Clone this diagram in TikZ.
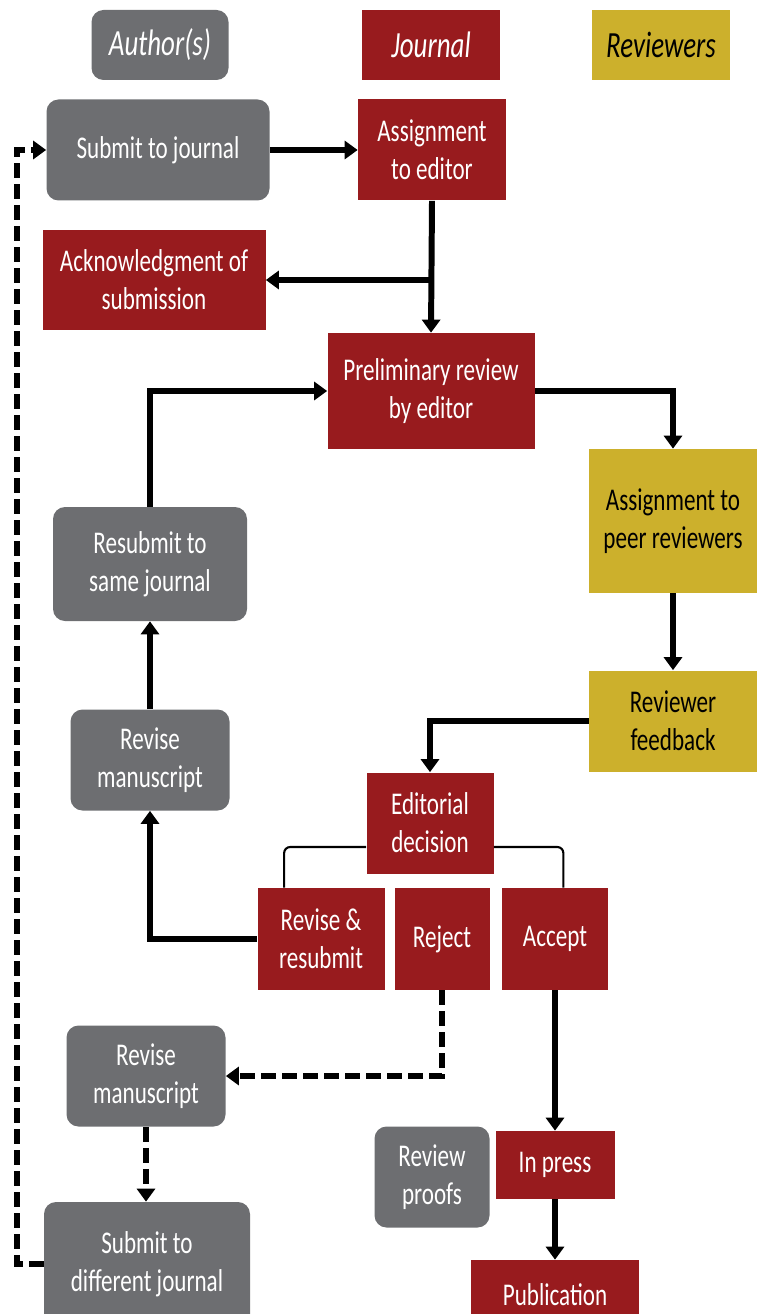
\documentclass[tikz,border=0pt]{standalone}
\usepackage{fontspec}
\setmainfont{Carlito}[FakeStretch=0.73]
\usetikzlibrary{arrows.meta,calc}

\definecolor{authgray}{RGB}{109,110,113}
\definecolor{jourred}{RGB}{152,27,30}
\definecolor{revgold}{RGB}{204,176,44}

\begin{document}
\begin{tikzpicture}[x=0.02cm, y=-0.02cm,
    boxsize/.style 2 args={minimum width=#1*0.02cm, minimum height=#2*0.02cm},
    base/.style={inner sep=0pt, align=center, font=\fontsize{18pt}{21.6pt}\selectfont},
    head/.style={font=\fontsize{21pt}{25pt}\selectfont\itshape},
    author/.style={base, fill=authgray, text=white, rounded corners=0.24cm},
    journal/.style={base, fill=jourred, text=white},
    reviewer/.style={base, fill=revgold, text=black},
    arr/.style={line width=3.4pt, -{Triangle[length=0.26cm, width=0.36cm]}},
    dasharr/.style={arr, dash pattern=on 0.3cm off 0.12cm},
    bracket/.style={line width=1.2pt, rounded corners=0.12cm}]

    \clip (0,0) rectangle (757,1314);

    % legend
    \node[author, head, boxsize={137}{70}] (hauth) at (160,45) {Author(s)};
    \node[journal, head, boxsize={138}{70}] (hjour) at (431,45) {Journal};
    \node[reviewer, head, boxsize={138}{70}] (hrev) at (661,45) {Reviewers};

    % boxes
    \node[author, boxsize={223}{101}] (sub) at (158,150) {Submit to journal};
    \node[journal, boxsize={148}{101}] (ae) at (432,150) {Assignment\\to editor};
    \node[journal, boxsize={223}{100}] (ack) at (154,280) {Acknowledgment of\\submission};
    \node[journal, boxsize={207}{116}] (prelim) at (431,391) {Preliminary review\\by editor};
    \node[reviewer, boxsize={168}{144}] (peer) at (673,521) {Assignment to\\peer reviewers};
    \node[author, boxsize={194}{114}] (resub) at (150,564) {Resubmit to\\same journal};
    \node[reviewer, boxsize={168}{101}] (feed) at (673,721) {Reviewer\\feedback};
    \node[author, boxsize={159}{101}] (rev1) at (150,760) {Revise\\manuscript};
    \node[journal, boxsize={127}{101}] (edit) at (430,823) {Editorial\\decision};
    \node[journal, boxsize={127}{102}] (rr) at (321,939) {Revise \&\\resubmit};
    \node[journal, boxsize={95}{102}] (rej) at (442,939) {Reject};
    \node[journal, boxsize={106}{102}] (acc) at (555,939) {Accept};
    \node[author, boxsize={159}{101}] (rev2) at (146,1076) {Revise\\manuscript};
    \node[author, boxsize={115}{101}] (proof) at (432,1177) {Review\\proofs};
    \node[journal, boxsize={119}{68}] (press) at (555,1165) {In press};
    \node[author, boxsize={206}{124}] (diff) at (147,1264) {Submit to\\different journal};
    \node[journal, boxsize={168}{70}] (pub) at (555,1295) {Publication};

    \coordinate (back) at (17,0);

    % connectors
    \draw[arr] (sub.east) -- (ae.west);
    \draw[arr] (ae.south) -- (prelim.north);
    \draw[arr] (ae.south |- ack.east) -- (ack.east);
    \draw[arr] (prelim.east) -| (peer.north);
    \draw[arr] (peer.south) -- (feed.north);
    \draw[arr] (feed.west) -| (edit.north);
    \draw[bracket] ($(edit.west)+(0,24)$) -| ($(rr.north west)+(27,0)$);
    \draw[bracket] ($(edit.east)+(0,24)$) -| ($(acc.north east)+(-45,0)$);
    \draw[arr] (rr.west) -| (rev1.south);
    \draw[arr] (rev1.north) -- (rev1.north |- resub.south);
    \draw[arr] (resub.north) |- (prelim.west);
    \draw[dasharr] (rej.south) |- (rev2.east);
    \draw[dasharr] (rev2.south) -- (rev2.south |- diff.north);
    \draw[dasharr] (diff.west) -- (diff.west -| back) |- (sub.west);
    \draw[arr] (acc.south) -- (acc.south |- press.north);
    \draw[arr] (press.south) -- (press.south |- pub.north);

\end{tikzpicture}
\end{document}
